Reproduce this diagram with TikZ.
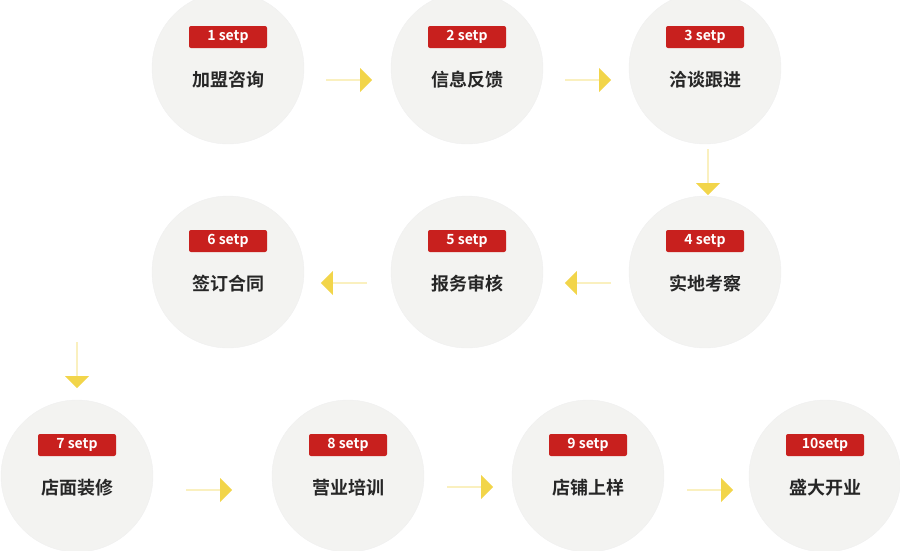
\documentclass[tikz,border=0pt]{standalone}
\usepackage{fontspec}
\newfontfamily\cjk{Noto Sans CJK SC}[BoldFont=* Bold]
\usetikzlibrary{shapes.arrows}
\definecolor{circ}{HTML}{F3F3F1}
\definecolor{badge}{HTML}{C8201E}
\definecolor{arr}{HTML}{F2D54A}
\begin{document}
\begin{tikzpicture}[x=1pt,y=-1pt,
  stepcirc/.style={circle,minimum size=152pt,fill=circ,draw=black!6,inner sep=0pt},
  stepbadge/.style={rounded corners=2pt,fill=badge,text=white,minimum width=78pt,minimum height=22pt,inner sep=0pt,font=\cjk\bfseries\fontsize{14}{14}\selectfont},
  steptext/.style={font=\cjk\bfseries\fontsize{18}{18}\selectfont,text=black!85},
  blockarr/.style={single arrow,fill=arr,minimum height=46pt,minimum width=24pt,single arrow head extend=6pt,inner sep=0pt,shape border rotate=#1}]
\useasboundingbox (0,0) rectangle (900,550);
\clip (0,0) rectangle (900,550);
\foreach \n/\x/\y/\t/\s in {1/228/68/加盟咨询/1 setp,2/467/68/信息反馈/2 setp,3/705/68/洽谈跟进/3 setp,
  4/705/272/实地考察/4 setp,5/467/272/报务审核/5 setp,6/228/272/签订合同/6 setp,
  7/77/476/店面装修/7 setp,8/348/476/营业培训/8 setp,9/588/476/店铺上样/9 setp,10/825/476/盛大开业/10setp}{
  \node[stepcirc] (c\n) at (\x,\y) {};
  \node[stepbadge] (b\n) at (\x,\y-31) {\s};
  \node[steptext] (t\n) at (\x,\y+12) {\t};
}
\node[blockarr=0] (a1) at (349,80) {};
\node[blockarr=0] (a2) at (588,80) {};
\node[blockarr=270] (a3) at (708,172) {};
\node[blockarr=180] (a4) at (588,283) {};
\node[blockarr=180] (a5) at (344,283) {};
\node[blockarr=270] (a6) at (77,365) {};
\node[blockarr=0] (a7) at (209,490) {};
\node[blockarr=0] (a8) at (470,487) {};
\node[blockarr=0] (a9) at (710,490) {};
\end{tikzpicture}
\end{document}
